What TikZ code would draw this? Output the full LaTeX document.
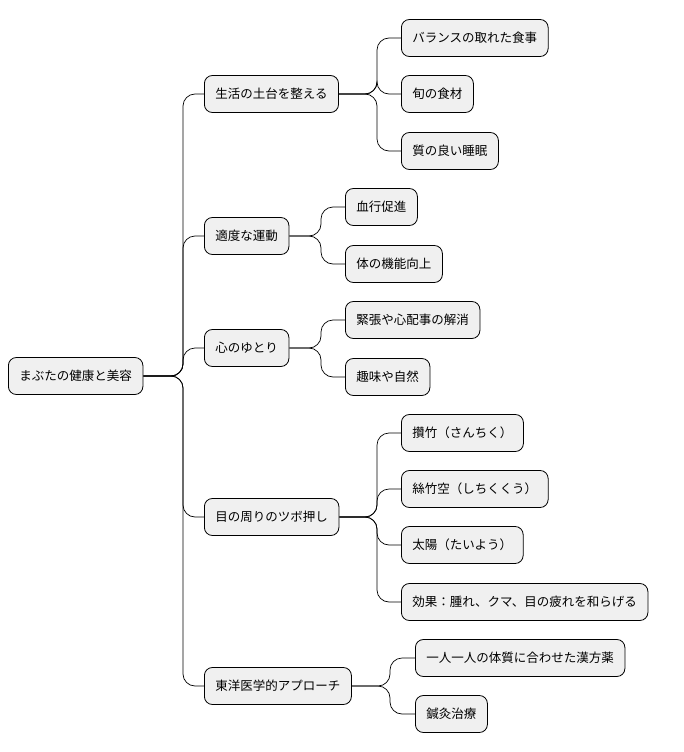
\documentclass[tikz,border=0pt]{standalone}
\usepackage{fontspec}
\setmainfont{Noto Sans CJK JP}
\usetikzlibrary{calc}
\tikzset{
  box/.style={draw=black, line width=0.8pt, fill=black!6, rounded corners=8pt,
    minimum height=37pt, inner xsep=11pt, anchor=west, font=\fontsize{12.5}{14}\selectfont},
  link/.style={draw=black, line width=0.7pt, rounded corners=12pt}
}
\newcommand{\branch}[3]{\draw[link] (#1.east) -- (#3,0 |- #1.east) -- (#3,0 |- #2.west) -- (#2.west);}
\begin{document}
\begin{tikzpicture}[x=1pt,y=-1pt]
		\useasboundingbox (0,0) rectangle (684,752);
		\node[box] (root) at (8,376) {まぶたの健康と美容};
		\node[box] (base) at (204,94) {生活の土台を整える};
		\node[box] (move) at (204,236) {適度な運動};
		\node[box] (mind) at (204,348) {心のゆとり};
		\node[box] (tsubo) at (204,517) {目の周りのツボ押し};
		\node[box] (east) at (204,686) {東洋医学的アプローチ};
		\node[box] (food) at (401,38) {バランスの取れた食事};
		\node[box] (season) at (401,94) {旬の食材};
		\node[box] (sleep) at (401,151) {質の良い睡眠};
		\node[box] (blood) at (345,207) {血行促進};
		\node[box] (body) at (345,264) {体の機能向上};
		\node[box] (stress) at (345,320) {緊張や心配事の解消};
		\node[box] (hobby) at (345,377) {趣味や自然};
		\node[box] (sanchiku) at (401,433) {攢竹（さんちく）};
		\node[box] (shichiku) at (401,489) {絲竹空（しちくくう）};
		\node[box] (taiyou) at (401,545) {太陽（たいよう）};
		\node[box] (effect) at (401,602) {効果：腫れ、クマ、目の疲れを和らげる};
		\node[box] (kampo) at (415,658) {一人一人の体質に合わせた漢方薬};
		\node[box] (shinkyu) at (415,714) {鍼灸治療};
		\foreach \c in {base,move,mind,tsubo,east} {\branch{root}{\c}{183}}
		\foreach \c in {food,season,sleep} {\branch{base}{\c}{377}}
		\foreach \c in {blood,body} {\branch{move}{\c}{321}}
		\foreach \c in {stress,hobby} {\branch{mind}{\c}{321}}
		\foreach \c in {sanchiku,shichiku,taiyou,effect} {\branch{tsubo}{\c}{377}}
		\foreach \c in {kampo,shinkyu} {\branch{east}{\c}{390}}
\end{tikzpicture}
\end{document}
